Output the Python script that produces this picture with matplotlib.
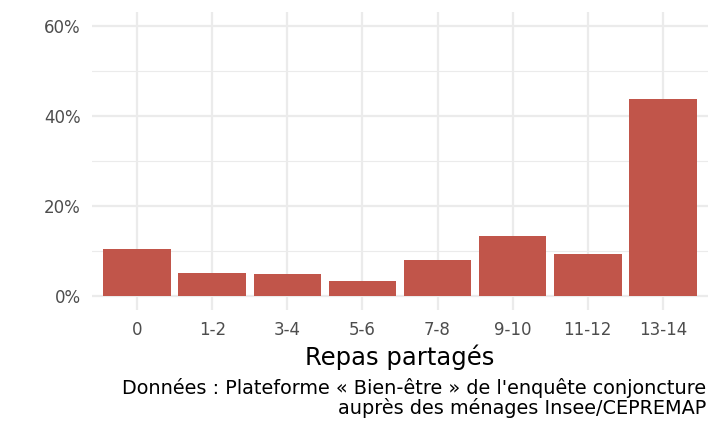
import numpy as np
import matplotlib.pyplot as plt
from matplotlib.ticker import FuncFormatter, MultipleLocator

plt.rcParams['font.family'] = ['DejaVu Sans']

# data (share of respondents)
categories = ['0', '1-2', '3-4', '5-6', '7-8', '9-10', '11-12', '13-14']
shares = [0.106, 0.052, 0.049, 0.035, 0.081, 0.134, 0.095, 0.438]

bar_color = '#c1554a'
grid_color = '#ebebeb'

fig = plt.figure(figsize=(7.2, 4.36), dpi=100)
ax = fig.add_axes([92 / 720, 1 - 310 / 436, 616 / 720, 298 / 436])

x = np.arange(len(categories))
ax.bar(x, shares, width=0.9, color=bar_color, zorder=2)

ax.set_xlim(-0.6, len(categories) - 0.4)
ax.set_ylim(-0.03, 0.63)
ax.set_xticks(x)
ax.set_xticklabels(categories)
ax.yaxis.set_major_locator(MultipleLocator(0.2))
ax.yaxis.set_minor_locator(MultipleLocator(0.1))
ax.yaxis.set_major_formatter(FuncFormatter(lambda v, p: '%d%%' % round(v * 100)))

ax.grid(True, which='major', color=grid_color, linewidth=1.6, zorder=0)
ax.grid(True, which='minor', axis='y', color=grid_color, linewidth=0.8, zorder=0)
ax.set_axisbelow(True)
for s in ax.spines.values():
    s.set_visible(False)
ax.tick_params(which='both', length=0, labelsize=12, labelcolor='#4d4d4d', pad=8)

ax.set_xlabel('Repas partagés', fontsize=17.5, color='black', labelpad=4)

fig.text(706 / 720, 1 - 378 / 436,
         "Données : Plateforme « Bien-être » de l'enquête conjoncture\nauprès des ménages Insee/CEPREMAP",
         ha='right', va='top', fontsize=13.9, color='black', linespacing=1.0)

fig.savefig('out.png', dpi=100)
